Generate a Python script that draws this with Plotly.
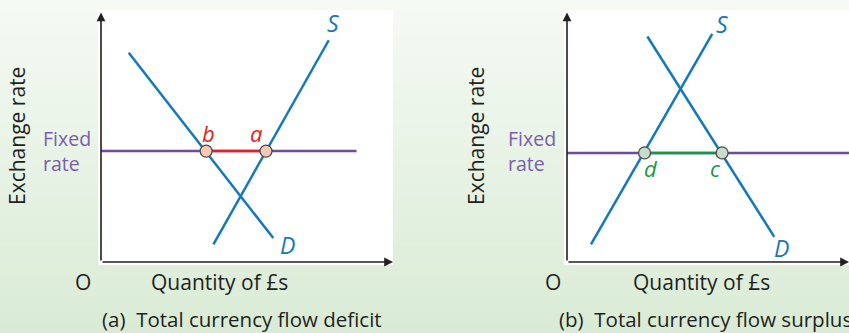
import plotly.graph_objects as go

W, H = 849, 333

# ---- data ----
# Panel (a): total currency flow deficit
demand_a_q = [0.95, 5.9]
demand_a_r = [8.3, 0.95]
supply_a_q = [3.85, 7.8]
supply_a_r = [0.7, 8.8]
fixed_a_q = [0.0, 8.75]
fixed_rate_a = 4.4
deficit_q = [3.6, 5.65]          # points b, a
deficit_labels = ["b", "a"]

# Panel (b): total currency flow surplus
demand_b_q = [2.85, 7.35]
demand_b_r = [8.95, 1.0]
supply_b_q = [0.85, 5.15]
supply_b_r = [0.7, 9.05]
fixed_b_q = [0.0, 10.0]
fixed_rate_b = 4.33
surplus_q = [2.75, 5.5]          # points d, c
surplus_labels = ["d", "c"]

BLUE = "#1479b8"
PURPLE = "#6a4ca0"
PURPLE_TXT = "#7b5eab"
RED = "#e31e24"
GREEN = "#13994a"
AX = "#231f20"
FONT = "Open Sans"


def px(x):
    return x / W


def py(y):
    return 1 - y / H


fig = go.Figure()

# background gradient + white panels
top = (245, 250, 244)
bot = (217, 235, 213)
n = 60
shapes = []
for i in range(n):
    t = i / (n - 1)
    c = tuple(round(top[k] + (bot[k] - top[k]) * t) for k in range(3))
    shapes.append(dict(type="rect", xref="paper", yref="paper",
                       x0=0, x1=1, y0=1 - i / n, y1=1 - (i + 1) / n - 0.002,
                       fillcolor="rgb(%d,%d,%d)" % c, line=dict(width=0), layer="below"))
shapes.append(dict(type="rect", xref="paper", yref="paper", x0=px(98), x1=px(393),
                   y0=py(265), y1=py(10), fillcolor="white", line=dict(width=0), layer="below"))
shapes.append(dict(type="rect", xref="paper", yref="paper", x0=px(564), x1=1.0,
                   y0=py(265), y1=py(10), fillcolor="white", line=dict(width=0), layer="below"))
fig.update_layout(shapes=shapes)

LBL = {"b": (0.08, 0.72), "a": (-0.35, 0.72), "d": (0.24, -0.6), "c": (-0.22, -0.6)}


def panel(xa, ya, dq, dr, sq, sr, fq, fr, pts, plabels, seg_col, pt_fill, xmax):
    line_kw = dict(color=BLUE, width=2.5)
    fig.add_trace(go.Scatter(x=fq, y=[fr, fr], mode="lines", line=dict(color=PURPLE, width=2.5),
                             xaxis=xa, yaxis=ya, hoverinfo="skip"))
    fig.add_trace(go.Scatter(x=dq, y=dr, mode="lines", line=line_kw, xaxis=xa, yaxis=ya, hoverinfo="skip"))
    fig.add_trace(go.Scatter(x=sq, y=sr, mode="lines", line=line_kw, xaxis=xa, yaxis=ya, hoverinfo="skip"))
    fig.add_trace(go.Scatter(x=pts, y=[fr, fr], mode="lines+markers",
                             line=dict(color=seg_col, width=2.5),
                             marker=dict(size=12, color=pt_fill, line=dict(color="#4a4a4a", width=1.3)),
                             xaxis=xa, yaxis=ya, hoverinfo="skip"))
    xr = "x" if xa == "x" else "x2"
    yr = "y" if ya == "y" else "y2"
    # axes with arrows
    fig.add_annotation(x=0, y=9.9, ax=0, ay=0, xref=xr, yref=yr, axref=xr, ayref=yr, text="",
                       showarrow=True, arrowhead=2, arrowsize=1.1, arrowwidth=1.6, arrowcolor=AX)
    fig.add_annotation(x=xmax, y=0, ax=0, ay=0, xref=xr, yref=yr, axref=xr, ayref=yr, text="",
                       showarrow=True, arrowhead=2, arrowsize=1.1, arrowwidth=1.6, arrowcolor=AX)
    for q, lab in zip(pts, plabels):
        dx, dy = LBL[lab]
        fig.add_annotation(x=q + dx, y=fr + dy, xref=xr, yref=yr, text="<i>%s</i>" % lab,
                           showarrow=False, xanchor="center", yanchor="middle",
                           font=dict(family=FONT, size=22, color=seg_col))


panel("x", "y", demand_a_q, demand_a_r, supply_a_q, supply_a_r, fixed_a_q, fixed_rate_a,
      deficit_q, deficit_labels, RED, "#f7c9b3", 10.0)
panel("x2", "y2", demand_b_q, demand_b_r, supply_b_q, supply_b_r, fixed_b_q, fixed_rate_b,
      surplus_q, surplus_labels, GREEN, "#c9dcc9", 10.0)

# S / D curve labels
for xr, yr, q, r, t in [("x", "y", 7.95, 9.48, "S"), ("x", "y", 6.37, 0.67, "D"),
                        ("x2", "y2", 5.5, 9.44, "S"), ("x2", "y2", 7.62, 0.56, "D")]:
    fig.add_annotation(x=q, y=r, xref=xr, yref=yr, text="<i>%s</i>" % t, showarrow=False,
                       xanchor="center", yanchor="middle",
                       font=dict(family=FONT, size=23, color=BLUE))

# paper-level texts
txt = dict(family=FONT, size=21, color="#231f20")
common = dict(xref="paper", yref="paper", showarrow=False, yanchor="middle")
for x0 in [17, 476]:
    fig.add_annotation(x=px(x0), y=py(136), text="Exchange rate", textangle=-90,
                       xanchor="center", font=txt, **common)
for xf in [41, 506]:
    for yy, w in [(138, "Fixed"), (163, "rate")]:
        fig.add_annotation(x=px(xf), y=py(yy), text=w, xanchor="left", **common,
                           font=dict(family=FONT, size=19.5, color=PURPLE_TXT))
for xo, xq in [(83, 219), (553, 701)]:
    fig.add_annotation(x=px(xo), y=py(282), text="O", xanchor="center", font=txt, **common)
    fig.add_annotation(x=px(xq), y=py(282), text="Quantity of £s", xanchor="center", font=txt, **common)
cap = dict(family=FONT, size=20.5, color="#231f20")
fig.add_annotation(x=px(100), y=py(319), xanchor="left",
                   text="(a)\u00a0\u00a0Total currency flow deficit", font=cap, **common)
fig.add_annotation(x=px(557), y=py(319), xanchor="left",
                   text="(b)\u00a0\u00a0Total currency flow surplus", font=cap, **common)

ax_common = dict(visible=False, showgrid=False, zeroline=False, fixedrange=True)
fig.update_layout(
    width=W, height=H, margin=dict(l=0, r=0, t=0, b=0),
    paper_bgcolor="rgba(0,0,0,0)", plot_bgcolor="rgba(0,0,0,0)",
    showlegend=False,
    xaxis=dict(domain=[px(101), px(393)], range=[0, 10], **ax_common),
    yaxis=dict(domain=[py(262), py(10)], range=[0, 10], **ax_common),
    xaxis2=dict(domain=[px(567), 1.0], range=[0, 10], anchor="y2", **ax_common),
    yaxis2=dict(domain=[py(262), py(10)], range=[0, 10], anchor="x2", **ax_common),
)
fig.write_html("out.html", config={"displayModeBar": False},
               post_script="document.body.style.margin='0';document.body.style.overflow='hidden';")
